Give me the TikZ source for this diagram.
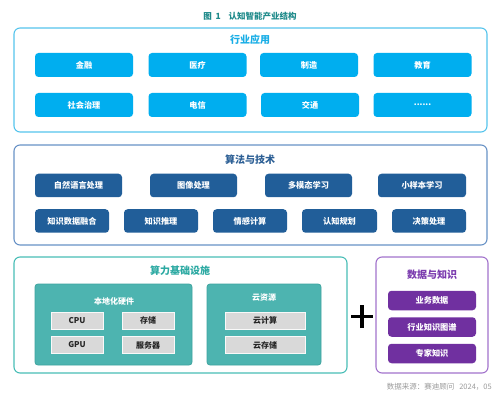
\documentclass[tikz,border=0pt]{standalone}
\usepackage{fontspec}
\setmainfont{Noto Sans CJK SC}
\definecolor{ttl}{HTML}{1F8A8A}
\definecolor{pA}{HTML}{55C4EC}
\definecolor{tA}{HTML}{19AEE6}
\definecolor{bA}{HTML}{00AEEF}
\definecolor{pB}{HTML}{6892C6}
\definecolor{tB}{HTML}{2C5F95}
\definecolor{bB}{HTML}{215E99}
\definecolor{pC}{HTML}{48BDB6}
\definecolor{tC}{HTML}{2BA9A2}
\definecolor{iC}{HTML}{4DB4B0}
\definecolor{iCd}{HTML}{3EA49F}
\definecolor{gC}{HTML}{D9D9D9}
\definecolor{pD}{HTML}{A273CC}
\definecolor{tD}{HTML}{7A3AAE}
\definecolor{bD}{HTML}{7030A0}
\definecolor{src}{HTML}{9A9A9A}
\tikzset{
  panel/.style={draw, line width=1.1pt, rounded corners=6pt, fill=white, inner sep=0pt},
  ptitle/.style={font=\bfseries\fontsize{10}{12}\selectfont, inner sep=0pt},
  btn/.style={rounded corners=3.5pt, inner sep=0pt, text=white, font=\bfseries\fontsize{8.2}{10}\selectfont},
  btnA/.style={btn, fill=bA, minimum width=98pt, minimum height=24pt},
  btnB/.style={btn, fill=bB, minimum height=23.5pt},
  btnD/.style={btn, fill=bD, minimum width=88pt, minimum height=19.5pt},
  inner/.style={draw=iCd, line width=0.8pt, fill=iC, rounded corners=3pt, inner sep=0pt, minimum height=81pt},
  grey/.style={fill=gC, draw=white!85!gC, inner sep=0pt, minimum height=17pt, font=\bfseries\fontsize{8}{10}\selectfont, text=black!85},
}
\begin{document}
\begin{tikzpicture}[x=1pt, y=-1pt]
\useasboundingbox (0,0) rectangle (500,403);
% title
\node[text=ttl, font=\bfseries\fontsize{8.5}{10}\selectfont, inner sep=0pt] (title) at (250,16) {图\ \ 1\ \ \ \ 认知智能产业结构};
% panel A
\node[panel, draw=pA, minimum width=473pt, minimum height=104pt] (pa) at (250.5,80) {};
\node[ptitle, text=tA] (pat) at (250,40) {行业应用};
\node[btnA] (a1) at (84,65) {金融};
\node[btnA] (a2) at (197.5,65) {医疗};
\node[btnA] (a3) at (309,65) {制造};
\node[btnA] (a4) at (422.5,65) {教育};
\node[btnA] (a5) at (84,105) {社会治理};
\node[btnA] (a6) at (197.5,105) {电信};
\node[btnA] (a7) at (310,105) {交通};
\node[btnA] (a8) at (422.5,105) {......};
% panel B
\node[panel, draw=pB, minimum width=473pt, minimum height=100pt] (pb) at (250.5,195) {};
\node[ptitle, text=tB] (pbt) at (250,160) {算法与技术};
\node[btnB, minimum width=87pt] (b1) at (78.5,185.5) {自然语言处理};
\node[btnB, minimum width=87pt] (b2) at (193.5,185.5) {图像处理};
\node[btnB, minimum width=87pt] (b3) at (308.5,185.5) {多模态学习};
\node[btnB, minimum width=88pt] (b4) at (422,185.5) {小样本学习};
\node[btnB, minimum width=74pt] (b5) at (72,221) {知识数据融合};
\node[btnB, minimum width=74pt] (b6) at (161,221) {知识推理};
\node[btnB, minimum width=74pt] (b7) at (250,221) {情感计算};
\node[btnB, minimum width=75pt] (b8) at (339.5,221) {认知规划};
\node[btnB, minimum width=74pt] (b9) at (429,221) {决策处理};
% panel C
\node[panel, draw=pC, minimum width=333pt, minimum height=116pt] (pc) at (180.5,315) {};
\node[ptitle, text=tC] (pct) at (180,271) {算力基础设施};
\node[inner, minimum width=157pt] (c1) at (113.5,324.5) {};
\node[text=white, font=\bfseries\fontsize{8}{10}\selectfont, inner sep=0pt] (c1t) at (114,301) {本地化硬件};
\node[grey, minimum width=52pt] (g1) at (77,320.5) {CPU};
\node[grey, minimum width=52pt] (g2) at (148,320.5) {存储};
\node[grey, minimum width=52pt] (g3) at (77,345) {GPU};
\node[grey, minimum width=52pt] (g4) at (148,345) {服务器};
\node[inner, minimum width=114pt] (c2) at (264,324.5) {};
\node[text=white, font=\bfseries\fontsize{8}{10}\selectfont, inner sep=0pt] (c2t) at (264,298) {云资源};
\node[grey, minimum width=80pt] (g5) at (265,320.5) {云计算};
\node[grey, minimum width=80pt] (g6) at (265,345) {云存储};
% plus
\coordinate (pl) at (362,316.5);
\draw[line width=3.2pt, black] ([xshift=-11pt]pl) -- ([xshift=11pt]pl);
\draw[line width=3.2pt, black] ([yshift=-11.5pt]pl) -- ([yshift=11.5pt]pl);
% panel D
\node[panel, draw=pD, minimum width=112pt, minimum height=116pt] (pd) at (432,315) {};
\node[ptitle, text=tD] (pdt) at (432,275) {数据与知识};
\node[btnD] (d1) at (432,300.5) {业务数据};
\node[btnD] (d2) at (432,327) {行业知识图谱};
\node[btnD] (d3) at (432,353.5) {专家知识};
% source
\node[anchor=east, text=src, font=\fontsize{7.5}{9}\selectfont, inner sep=0pt] (srcn) at (492,387) {数据来源：赛迪顾问\ \ \ 2024，05};
\end{tikzpicture}
\end{document}
